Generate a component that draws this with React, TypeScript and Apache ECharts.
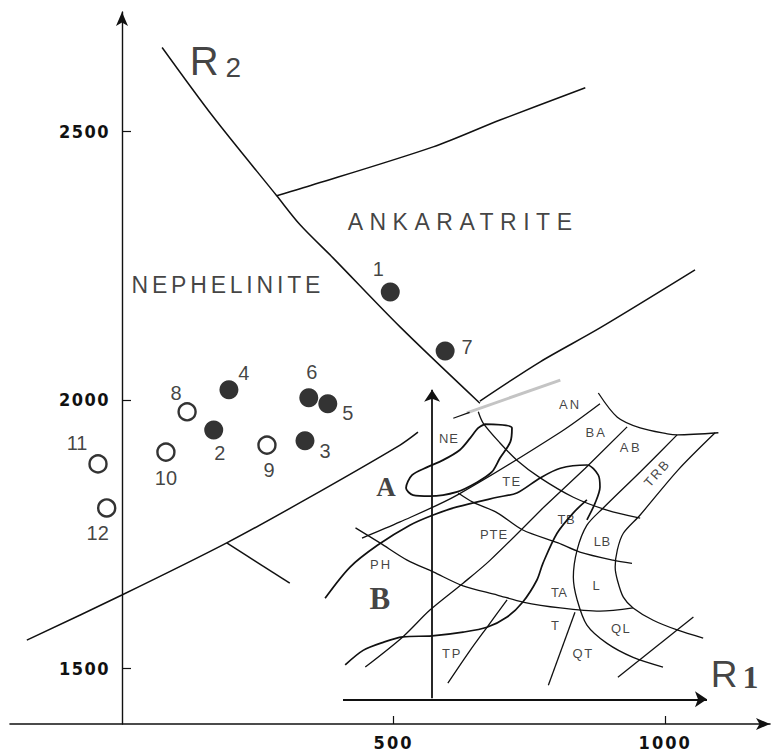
import React, { useEffect, useRef } from "react";
import * as echarts from "echarts";

// ---- data (R1 on x, R2 on y, in the plot's own units) ----
const filledLabels = ["1", "7", "4", "6", "5", "2", "3"];
const filledR1 = [494, 595, 197, 344, 379, 169, 337];
const filledR2 = [2201, 2091, 2019, 2004, 1993, 1944, 1924];

const openLabels = ["8", "10", "9", "11", "12"];
const openR1 = [120, 81, 267, -44, -28];
const openR2 = [1978, 1903, 1916, 1881, 1799];

const xTicks = [500, 1000];
const yTicks = [1500, 2000, 2500];

// field boundaries of the main diagram
const curveR2 = [[74, 2656], [168, 2527], [285, 2380], [328, 2326], [389, 2264], [512, 2136], [659, 1994]];
const upperBranch = [[285, 2380], [328, 2393], [573, 2471], [696, 2521], [853, 2581]];
const lowerBranch = [[659, 1998], [770, 2071], [880, 2134], [1055, 2242]];
const leftBoundary = [[-175, 1553], [0, 1637], [193, 1734], [337, 1814], [512, 1916], [545, 1940]];
const shortTick = [[193, 1734], [309, 1659]];
const greyTrace = [[635, 1976], [807, 2037]];
const darkTrace = [[610, 1966], [640, 1977]];

// inset: classification grid
const insetVAxis = [[571, 1445], [571, 2019]];
const insetHAxis = [[407, 1443], [1077, 1443]];
const loopA = [[668, 1955], [718, 1948], [715, 1922], [696, 1892], [681, 1866], [654, 1847], [617, 1829], [567, 1821], [536, 1823], [523, 1836], [534, 1860], [562, 1875], [591, 1888], [622, 1907], [641, 1929], [656, 1948], [668, 1955]];
const arc1 = [[656, 1978], [665, 1957], [696, 1920], [727, 1888], [770, 1855], [831, 1819], [893, 1795], [954, 1780]];
const arc2 = [[619, 1827], [646, 1810], [691, 1790], [738, 1758], [803, 1734], [843, 1717], [904, 1702], [939, 1696]];
const arc3 = [[430, 1762], [475, 1734], [525, 1702], [573, 1680], [628, 1654], [691, 1637], [738, 1624], [807, 1613], [880, 1607], [941, 1613]];
const topArc = [[877, 2013], [912, 1968], [954, 1948], [1004, 1937], [1022, 1935], [1098, 1939]];
const rightArc = [[1092, 1939], [1024, 1870], [954, 1786], [923, 1752], [912, 1721], [908, 1689], [912, 1665], [923, 1633], [941, 1613], [978, 1590], [1022, 1572], [1070, 1557]];
const innerArc = [[1022, 1935], [954, 1866], [886, 1799], [856, 1767], [838, 1721], [831, 1670], [838, 1628], [856, 1581], [893, 1547], [941, 1521], [996, 1503]];
const lineBA = [[930, 1950], [853, 1873], [775, 1799]];
const lineAN = [[442, 1743], [512, 1773], [617, 1823], [807, 1940], [880, 1993]];
const loopBUpper = [[374, 1631], [420, 1689], [471, 1730], [530, 1767], [573, 1786], [617, 1801], [691, 1819], [727, 1827], [770, 1855], [807, 1873], [856, 1879], [877, 1860], [880, 1838], [871, 1808], [856, 1777]];
const loopBLower = [[411, 1507], [444, 1534], [481, 1549], [517, 1559], [571, 1561], [628, 1568], [672, 1577], [709, 1596], [738, 1624], [764, 1665], [775, 1696], [801, 1752], [831, 1790], [856, 1814]];
const lineTP = [[600, 1473], [641, 1534], [672, 1577], [709, 1628]];
const linePH = [[448, 1503], [517, 1559], [567, 1609], [628, 1659], [678, 1702], [775, 1799]];
const lineQL = [[913, 1484], [1052, 1596]];
const lineT = [[785, 1469], [834, 1605]];

// texts placed in data units
const fieldNames = ["ANKARATRITE", "NEPHELINITE"];
const fieldPos = [[628, 2331], [195, 2214]];
const insetNames = ["AN", "BA", "AB", "NE", "TE", "PTE", "TB", "LB", "PH", "TA", "L", "T", "QT", "QL", "TP"];
const insetPos = [[825, 1991], [873, 1940], [937, 1911], [602, 1929], [718, 1849], [685, 1750], [818, 1777], [884, 1737], [477, 1693], [805, 1641], [873, 1654], [797, 1581], [849, 1529], [919, 1574], [608, 1529]];
const trbPos = [985, 1864];
const groupNames = ["A", "B"];
const groupPos = [[486, 1838], [475, 1631]];
const r2Pos = [172, 2630];
const r1Pos = [1128, 1490];

const labelOffsets: Record<string, number[]> = {
  "1": [-12, -23], "7": [22, -4], "4": [15, -17], "6": [3, -26], "5": [20, 9], "2": [6, 23], "3": [20, 10],
  "8": [-11, -19], "10": [0, 26], "9": [2, 25], "11": [-21, -21], "12": [-9, 25],
};

// extra tracking (letter spacing, px) of the lettering in the scan
const tracking: Record<string, number> = {
  ANKARATRITE: 6.5, NEPHELINITE: 3.8,
  "500": 2, "1000": 2, "1500": 1.5, "2000": 1.5, "2500": 1.5,
  AN: 2, BA: 2, AB: 2.5, TRB: 2, NE: 1, TE: 1.5, PTE: 1, TB: 0.5, LB: 0.5, PH: 2, TA: 0.5, QT: 1.5, QL: 1.5, TP: 2,
};

const SANS = "'Liberation Sans', Arial, sans-serif";
const SERIF = "'Liberation Serif', 'Times New Roman', serif";
const TICKFONT = "'DejaVu Sans Condensed', 'Liberation Sans Narrow', sans-serif";

function lineSeries(data: number[][], extra: any = {}) {
  return {
    type: "line",
    data,
    showSymbol: false,
    symbol: "none",
    silent: true,
    smooth: extra.smooth ?? 0.3,
    lineStyle: { color: "#111", width: extra.width ?? 1.3, ...(extra.lineStyle || {}) },
    z: 2,
  };
}

function pointSeries(labels: string[], xs: number[], ys: number[], filled: boolean) {
  return {
    type: "scatter",
    symbol: "circle",
    symbolSize: filled ? 19 : 17,
    z: 5,
    itemStyle: filled
      ? { color: "#000" }
      : { color: "#fff", borderColor: "#000", borderWidth: 2.4 },
    label: {
      show: true,
      position: "inside",
      color: "#111",
      fontFamily: SANS,
      fontSize: 20,
      formatter: (p: any) => p.name,
    },
    data: labels.map((n, i) => ({
      name: n,
      value: [xs[i], ys[i]],
      label: { offset: labelOffsets[n] },
    })),
  };
}

function textSeries(items: any[]) {
  return {
    type: "scatter",
    symbolSize: 1,
    silent: true,
    z: 6,
    itemStyle: { color: "transparent" },
    label: { show: true, position: "inside", color: "#111", fontFamily: SANS },
    data: items,
  };
}

function applyTracking(root: HTMLElement) {
  root.querySelectorAll("text").forEach((t) => {
    const s = tracking[(t.textContent || "").trim()];
    if (s) t.setAttribute("letter-spacing", String(s));
  });
}

export default function App() {
  const ref = useRef<HTMLDivElement>(null);
  useEffect(() => {
    if (!ref.current) return;
    const el = ref.current;
    const chart = echarts.init(el, null, { renderer: "svg" });
    const texts: any[] = [];
    fieldNames.forEach((n, i) =>
      texts.push({ value: fieldPos[i], label: { formatter: n, fontSize: 23 } })
    );
    insetNames.forEach((n, i) =>
      texts.push({ value: insetPos[i], label: { formatter: n, fontSize: 13 } })
    );
    texts.push({ value: trbPos, label: { formatter: "TRB", fontSize: 13, rotate: 48 } });
    groupNames.forEach((n, i) =>
      texts.push({
        value: groupPos[i],
        label: { formatter: n, fontSize: i === 0 ? 27 : 31, fontWeight: "bold", fontFamily: SERIF },
      })
    );
    texts.push({
      value: r2Pos,
      label: {
        formatter: "{r|R}{s|2}",
        rich: {
          r: { fontSize: 40, fontFamily: SANS, color: "#111", verticalAlign: "bottom" },
          s: { fontSize: 28, fontFamily: SANS, color: "#111", padding: [0, 0, 0, 7], verticalAlign: "bottom" },
        },
      },
    });
    texts.push({
      value: r1Pos,
      label: {
        formatter: "{r|R}{s|1}",
        rich: {
          r: { fontSize: 37, fontFamily: SANS, color: "#111", verticalAlign: "bottom" },
          s: { fontSize: 32, fontWeight: "bold", fontFamily: SERIF, color: "#111", padding: [0, 0, 0, 5], verticalAlign: "bottom" },
        },
      },
    });

    const tickLabel = {
      show: true,
      formatter: (v: number) => String(v),
      color: "#111",
      fontSize: 18,
      lineHeight: 17,
      fontWeight: "bold",
      fontFamily: TICKFONT,
    };

    const option: any = {
      animation: false,
      backgroundColor: "#fff",
      grid: { left: 10, right: 5, top: 12, bottom: 29, containLabel: false, outerBoundsMode: "none" },
      xAxis: {
        type: "value",
        min: -206,
        max: 1193,
        splitLine: { show: false },
        axisLine: {
          show: true,
          onZero: false,
          symbol: ["none", "arrow"],
          symbolSize: [9, 14],
          lineStyle: { color: "#111", width: 1.6 },
        },
        axisTick: { show: true, inside: true, length: 8, customValues: xTicks, lineStyle: { color: "#111", width: 1.2 } },
        axisLabel: { ...tickLabel, customValues: xTicks, margin: 10 },
      },
      yAxis: {
        type: "value",
        min: 1397,
        max: 2722,
        offset: -112,
        splitLine: { show: false },
        axisLine: {
          show: true,
          onZero: false,
          symbol: ["none", "arrow"],
          symbolSize: [9, 14],
          lineStyle: { color: "#111", width: 1.4 },
        },
        axisTick: { show: true, inside: true, length: 9, customValues: yTicks, lineStyle: { color: "#111", width: 1.2 } },
        axisLabel: { ...tickLabel, customValues: yTicks, margin: 12 },
      },
      series: [
        lineSeries(curveR2, { width: 1.5 }),
        lineSeries(upperBranch, { width: 1.5 }),
        lineSeries(lowerBranch, { width: 1.5 }),
        lineSeries(leftBoundary, { width: 1.5 }),
        lineSeries(shortTick, { width: 1.5, smooth: false }),
        lineSeries(greyTrace, { width: 3, smooth: false, lineStyle: { color: "#c4c4c4" } }),
        lineSeries(darkTrace, { width: 1.3, smooth: false }),
        {
          type: "lines",
          coordinateSystem: "cartesian2d",
          silent: true,
          symbol: ["none", "arrow"],
          symbolSize: [8, 12],
          lineStyle: { color: "#111", width: 1.8, opacity: 1, curveness: 0 },
          data: [{ coords: insetVAxis }, { coords: insetHAxis }],
          z: 3,
        },
        lineSeries(loopA, { width: 1.8 }),
        lineSeries(arc1),
        lineSeries(arc2),
        lineSeries(arc3),
        lineSeries(topArc),
        lineSeries(rightArc),
        lineSeries(innerArc),
        lineSeries(lineBA, { smooth: false }),
        lineSeries(lineAN),
        lineSeries(loopBUpper, { width: 1.7 }),
        lineSeries(loopBLower, { width: 1.7 }),
        lineSeries(lineTP),
        lineSeries(linePH),
        lineSeries(lineQL, { smooth: false }),
        lineSeries(lineT, { smooth: false }),
        pointSeries(filledLabels, filledR1, filledR2, true),
        pointSeries(openLabels, openR1, openR2, false),
        textSeries(texts),
      ],
    };
    chart.setOption(option);
    applyTracking(el);
    const onFinished = () => applyTracking(el);
    chart.on("finished", onFinished);
    return () => {
      chart.off("finished", onFinished);
      chart.dispose();
    };
  }, []);
  return (
    <div
      ref={ref}
      style={{ position: "absolute", left: 0, top: 0, width: 775, height: 753, background: "#fff" }}
    />
  );
}
